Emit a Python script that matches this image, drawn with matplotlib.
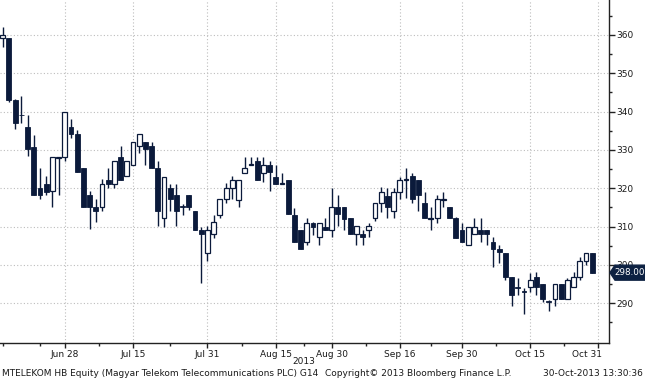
import matplotlib
matplotlib.use("Agg")
import matplotlib.pyplot as plt
import matplotlib.transforms as mtransforms
from matplotlib.patches import Polygon
import numpy as np

# ---- data (trading-day index, OHLC) ----
opens = [359.3, 359.1, 343.0, 339.2, 336.1, 330.9, 320.0, 321.0, 319.3, 328.0,
         328.1, 336.1, 334.1, 325.2, 318.3, 315.2, 315.2, 322.2, 321.1, 328.1,
         323.3, 326.1, 331.0, 332.0, 331.0, 325.2, 312.2, 320.0, 318.3, 315.3,
         318.3, 314.2, 309.1, 303.0, 308.0, 313.0, 317.1, 320.0, 316.9, 323.9,
         326.1, 327.0, 323.9, 326.1, 323.0, 321.0, 322.2, 313.0, 309.1, 306.1,
         311.0, 307.2, 310.0, 309.1, 315.2, 315.2, 312.2, 308.1, 308.1, 309.1,
         312.2, 316.1, 318.1, 314.1, 319.1, 322.2, 323.2, 322.2, 316.3, 312.1,
         312.2, 317.0, 315.2, 312.2, 309.1, 305.2, 308.1, 309.1, 309.1, 306.1,
         304.2, 303.0, 296.9, 294.3, 293.1, 294.2, 296.9, 295.0, 290.5, 291.1,
         295.0, 291.1, 294.2, 296.9, 301.0, 303.0]
highs = [362.2, 359.1, 343.2, 344.2, 339.1, 333.9, 325.2, 323.2, 328.1, 328.3,
         340.0, 338.1, 335.2, 325.2, 319.4, 317.2, 322.4, 325.2, 327.0, 331.0,
         327.0, 332.2, 334.1, 332.2, 332.2, 327.0, 323.0, 321.1, 321.1, 315.9,
         318.3, 314.2, 310.0, 310.2, 313.0, 317.1, 321.3, 323.2, 322.2, 328.3,
         328.3, 328.3, 328.3, 327.2, 326.1, 323.9, 322.2, 314.9, 309.1, 312.2,
         311.2, 311.0, 312.2, 320.0, 318.3, 315.2, 312.2, 310.2, 309.1, 311.0,
         316.1, 320.3, 320.0, 320.0, 323.0, 325.2, 324.1, 322.2, 319.1, 315.2,
         318.3, 319.1, 315.2, 312.6, 311.0, 310.0, 312.2, 312.2, 309.1, 307.2,
         305.2, 303.0, 296.9, 296.5, 293.9, 297.8, 298.1, 295.0, 290.9, 295.0,
         295.0, 296.5, 298.1, 302.1, 303.0, 303.0]
lows = [356.9, 342.4, 335.4, 337.0, 328.4, 318.3, 317.2, 318.3, 315.2, 318.3,
        327.0, 333.2, 324.2, 315.2, 309.4, 311.3, 314.1, 320.0, 320.0, 322.2,
        323.3, 326.1, 329.3, 326.1, 325.2, 310.2, 309.8, 314.2, 310.2, 313.0,
        314.3, 309.1, 295.2, 301.1, 307.0, 312.2, 316.1, 317.1, 315.2, 323.9,
        326.1, 322.2, 321.7, 319.4, 321.0, 321.0, 313.3, 306.1, 304.1, 305.2,
        307.8, 305.2, 309.1, 307.2, 310.2, 309.1, 308.1, 305.2, 305.2, 307.2,
        311.5, 313.9, 312.2, 312.2, 317.1, 317.4, 316.3, 314.2, 312.2, 309.1,
        311.0, 315.2, 312.2, 307.1, 306.1, 305.2, 308.1, 306.1, 305.2, 299.4,
        300.4, 296.2, 289.4, 292.2, 287.1, 293.0, 292.2, 290.4, 288.0, 289.2,
        291.1, 291.1, 294.2, 296.1, 300.0, 298.0]
closes = [360.0, 343.0, 337.0, 339.0, 330.2, 318.3, 318.3, 319.1, 328.1, 328.2,
          340.0, 334.1, 324.2, 315.2, 315.2, 314.1, 321.0, 321.1, 327.0, 322.2,
          327.0, 332.2, 334.1, 330.2, 325.2, 314.2, 323.0, 317.1, 314.2, 315.1,
          315.2, 309.1, 308.0, 309.1, 311.3, 317.1, 320.0, 322.2, 322.2, 325.2,
          326.3, 322.2, 326.1, 324.2, 321.0, 321.3, 313.3, 306.1, 304.1, 311.0,
          310.0, 311.0, 309.1, 315.2, 313.2, 312.0, 308.1, 310.2, 307.2, 310.2,
          316.1, 319.1, 315.0, 319.1, 322.2, 322.3, 317.1, 318.3, 312.2, 312.3,
          317.1, 317.2, 312.2, 307.1, 306.1, 310.0, 310.0, 308.1, 308.1, 304.1,
          303.3, 296.9, 292.2, 294.1, 292.9, 296.2, 294.2, 291.1, 290.3, 295.0,
          291.1, 296.1, 296.9, 301.0, 303.0, 298.0]

tick_pos = [10, 21, 33, 44, 53, 64, 74, 85, 96]
tick_labels = ["Jun 28", "Jul 15", "Jul 31", "Aug 15", "Aug 30",
               "Sep 16", "Sep 30", "Oct 15", "Oct 31"]
y_ticks = [290, 300, 310, 320, 330, 340, 350, 360]
last_price = 298.00

NAVY = "#0b1a3b"
GRID = "#bdbdbd"
TXT = "#1a1a1a"
FS = 6.5

fig = plt.figure(figsize=(6.45, 3.8), dpi=100)
W, H = 645, 380
ax = fig.add_axes([0, 1 - 343 / H, 609 / W, 343 / H])

x = np.arange(len(opens))
o = np.array(opens); h = np.array(highs); l = np.array(lows); c = np.array(closes)
up = c >= o

ax.vlines(x, l, h, color=NAVY, linewidth=1.0, zorder=2)
bottoms = np.minimum(o, c)
heights = np.maximum(np.abs(c - o), 0.25)
ax.bar(x[up], heights[up], bottom=bottoms[up], width=0.78,
       facecolor="white", edgecolor=NAVY, linewidth=0.9, zorder=3)
ax.bar(x[~up], heights[~up], bottom=bottoms[~up], width=0.78,
       facecolor=NAVY, edgecolor=NAVY, linewidth=0.6, zorder=3)

ax.set_xlim(-0.435, 97.7)
ax.set_ylim(279.65, 369.13)

# spines
for s in ["top", "left"]:
    ax.spines[s].set_visible(False)
ax.spines["right"].set_color("#222222")
ax.spines["bottom"].set_color("#222222")
ax.spines["right"].set_linewidth(1.0)
ax.spines["bottom"].set_linewidth(1.0)

# y axis on right
ax.yaxis.tick_right()
ax.set_yticks(y_ticks)
ax.set_yticklabels([str(v) for v in y_ticks])
minor_y = np.arange(285, 370, 5)
ax.set_yticks(minor_y[~np.isin(minor_y, y_ticks)], minor=True)
ax.tick_params(axis="y", which="major", direction="out", length=4, width=1,
               color="#222222", labelsize=FS, labelcolor=TXT, pad=1.5)
ax.tick_params(axis="y", which="minor", direction="out", length=2.5, width=1,
               color="#222222")

# x axis
ax.set_xticks(tick_pos)
ax.set_xticklabels(tick_labels)
mids = [(a + b) / 2 for a, b in zip(tick_pos[:-1], tick_pos[1:])]
ax.set_xticks([0, 6] + mids, minor=True)
ax.tick_params(axis="x", which="major", direction="out", length=3.5, width=1,
               color="#222222", labelsize=FS, labelcolor=TXT, pad=1.5)
ax.tick_params(axis="x", which="minor", direction="out", length=2.5, width=1,
               color="#222222")
lbl = ax.get_xticklabels()[-1]
lbl.set_transform(lbl.get_transform() + mtransforms.ScaledTranslation(-11 / 100, 0, fig.dpi_scale_trans))

# grid
ax.grid(True, which="major", axis="both", linestyle=(0, (1, 2)), color=GRID, linewidth=0.8)
ax.set_axisbelow(True)

# last price marker
trans = mtransforms.blended_transform_factory(fig.transFigure, ax.transData)
half = 7.5 / 3.833
poly = Polygon([[610 / W, last_price], [615 / W, last_price + half],
                [645 / W, last_price + half], [645 / W, last_price - half],
                [615 / W, last_price - half]],
               closed=True, transform=trans, facecolor="#0d2142",
               edgecolor="#0d2142", clip_on=False, zorder=10)
fig.add_artist(poly)
fig.text(629.5 / W, last_price, f"{last_price:.2f}", transform=trans,
         ha="center", va="center", color="white", fontsize=6.3, zorder=11)

# footer texts
fig.text(304 / W, 1 - 361 / H, "2013", ha="center", va="center", fontsize=FS, color=TXT)
fig.text(2 / W, 1 - 373 / H,
         "MTELEKOM HB Equity (Magyar Telekom Telecommunications PLC) G14",
         ha="left", va="center", fontsize=FS, color=TXT)
fig.text(418 / W, 1 - 373 / H, "Copyright\u00a9 2013 Bloomberg Finance L.P.",
         ha="center", va="center", fontsize=FS, color=TXT)
fig.text(643 / W, 1 - 373 / H, "30-Oct-2013 13:30:36",
         ha="right", va="center", fontsize=FS, color=TXT)

fig.savefig("out.png", dpi=100, facecolor="white")
